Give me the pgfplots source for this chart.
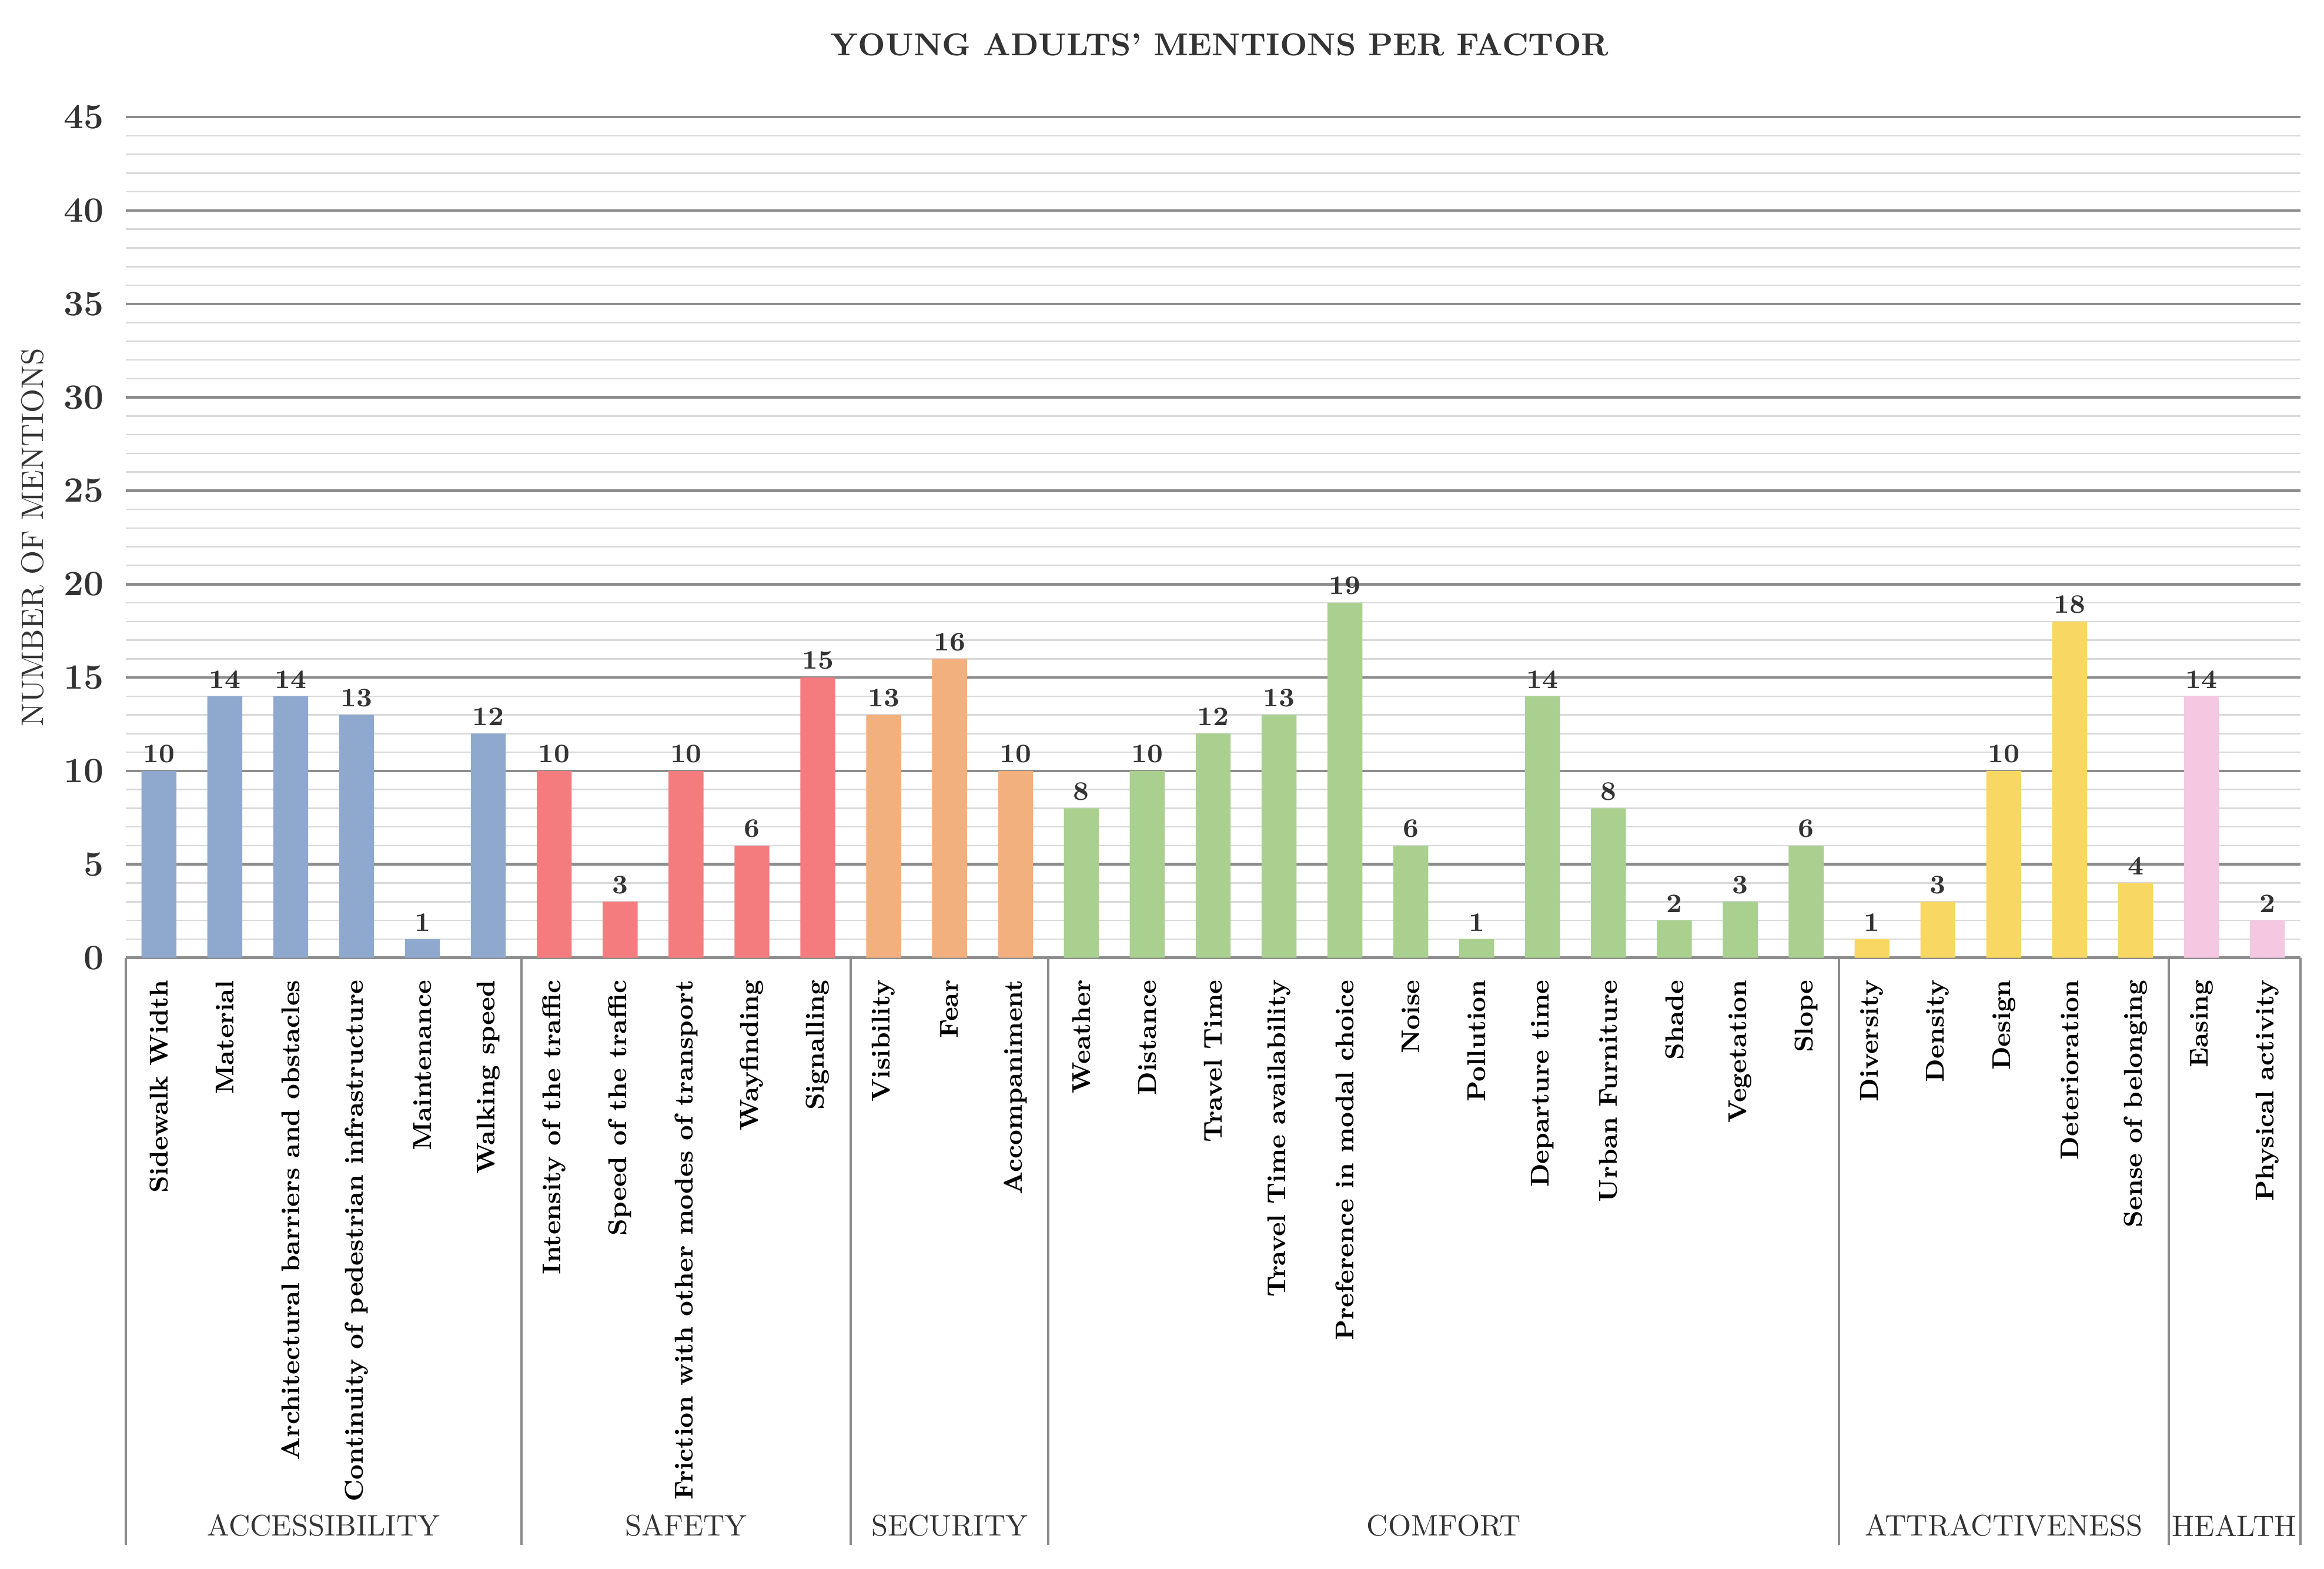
\documentclass[border=0pt]{standalone}
\usepackage{pgfplots}
\pgfplotsset{compat=1.18}
\definecolor{cAcc}{HTML}{8EA9CD}
\definecolor{cSaf}{HTML}{F47C7F}
\definecolor{cSec}{HTML}{F2B07F}
\definecolor{cCom}{HTML}{A9D08E}
\definecolor{cAtt}{HTML}{F8D863}
\definecolor{cHea}{HTML}{F5C7E0}
\definecolor{majgrid}{HTML}{8C8C8C}
\definecolor{mingrid}{HTML}{D9D9D9}
\definecolor{txt}{HTML}{333333}
\begin{document}
\begin{tikzpicture}
\begin{axis}[
 scale only axis, width=733.5pt, height=283.5pt,
 xmin=-0.5, xmax=32.5, ymin=0, ymax=45,
 clip=false,
 axis x line*=bottom, axis y line*=left,
 y axis line style={draw=none},
 x axis line style={draw=majgrid, line width=1pt},
 ytick={0,5,...,45}, minor y tick num=4,
 ymajorgrids, yminorgrids,
 major grid style={draw=majgrid, line width=0.9pt},
 minor grid style={draw=mingrid, line width=0.5pt},
 major tick length=0pt, minor tick length=0pt,
 xtick={0,...,32},
 xticklabels={Sidewalk Width, Material, Architectural barriers and obstacles, Continuity of pedestrian infrastructure, Maintenance, Walking speed,
  Intensity of the traffic, Speed of the traffic, Friction with other modes of transport, Wayfinding, Signalling,
  Visibility, Fear, Accompaniment,
  Weather, Distance, Travel Time, Travel Time availability, Preference in modal choice, Noise, Pollution, Departure time, Urban Furniture, Shade, Vegetation, Slope,
  Diversity, Density, Design, Deterioration, Sense of belonging,
  Easing, Physical activity},
 xticklabel style={rotate=90, anchor=east, font=\fontsize{8.7}{10}\selectfont\bfseries, text=black},
 xticklabel shift=4pt,
 yticklabel style={font=\fontsize{12}{14}\selectfont\bfseries, text=txt, xshift=-4pt},
 /pgf/number format/assume math mode=true,
 ylabel={NUMBER OF MENTIONS},
 ylabel style={at={(rel axis cs:-0.0429,0.5)}, anchor=center, font=\fontsize{10.5}{12}\selectfont, text=txt},
 title={YOUNG ADULTS' MENTIONS PER FACTOR},
 title style={at={(axis description cs:0.503,1.065)}, anchor=center, font=\fontsize{10.7}{12}\selectfont\bfseries, text=txt},
 every axis plot/.append style={ybar, bar width=0.53, bar shift=0pt, draw=none},
 nodes near coords,
 nodes near coords style={font=\fontsize{9}{10}\selectfont\bfseries, text=txt, inner sep=2.5pt},
]
\addplot[fill=cAcc] coordinates {(0,10)(1,14)(2,14)(3,13)(4,1)(5,12)};
\addplot[fill=cSaf] coordinates {(6,10)(7,3)(8,10)(9,6)(10,15)};
\addplot[fill=cSec] coordinates {(11,13)(12,16)(13,10)};
\addplot[fill=cCom] coordinates {(14,8)(15,10)(16,12)(17,13)(18,19)(19,6)(20,1)(21,14)(22,8)(23,2)(24,3)(25,6)};
\addplot[fill=cAtt] coordinates {(26,1)(27,3)(28,10)(29,18)(30,4)};
\addplot[fill=cHea] coordinates {(31,14)(32,2)};

\pgfplotsinvokeforeach{-0.5,5.5,10.5,13.5,25.5,30.5,32.5}{
  \draw[majgrid, line width=0.8pt] (axis cs:#1,0) -- ++(0pt,-198pt);
}
\node[font=\fontsize{10}{12}\selectfont, text=txt] at ([yshift=-191.5pt]axis cs:2.5,0) {ACCESSIBILITY};
\node[font=\fontsize{10}{12}\selectfont, text=txt] at ([yshift=-191.5pt]axis cs:8,0) {SAFETY};
\node[font=\fontsize{10}{12}\selectfont, text=txt] at ([yshift=-191.5pt]axis cs:12,0) {SECURITY};
\node[font=\fontsize{10}{12}\selectfont, text=txt] at ([yshift=-191.5pt]axis cs:19.5,0) {COMFORT};
\node[font=\fontsize{10}{12}\selectfont, text=txt] at ([yshift=-191.5pt]axis cs:28,0) {ATTRACTIVENESS};
\node[font=\fontsize{10}{12}\selectfont, text=txt] at ([yshift=-191.5pt]axis cs:31.5,0) {HEALTH};
\path ([xshift=-42.5pt,yshift=-206pt]rel axis cs:0,0) rectangle ([xshift=8pt,yshift=39.5pt]rel axis cs:1,1);
\end{axis}
\end{tikzpicture}
\end{document}
